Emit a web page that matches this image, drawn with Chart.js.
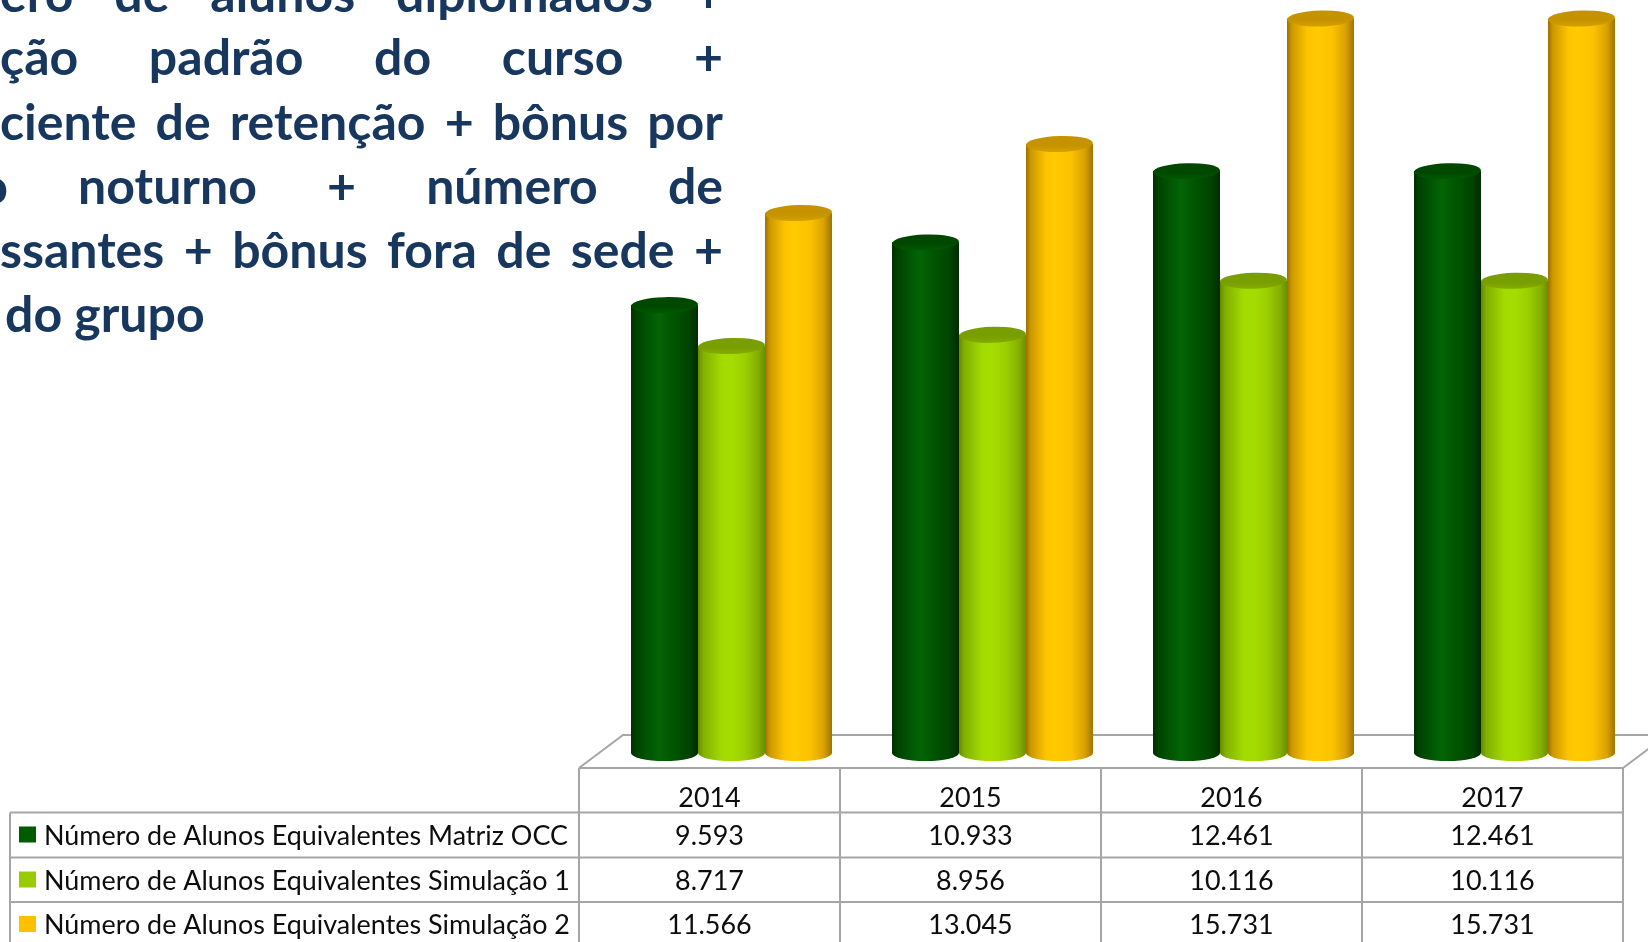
<!DOCTYPE html>
<html lang="pt-BR"><head><meta charset="utf-8">
<script src="https://cdn.jsdelivr.net/npm/chart.js@4.4.1/dist/chart.umd.min.js"></script>
<style>html,body{margin:0;padding:0;background:#fff;overflow:hidden}canvas{display:block}</style>
</head><body>
<canvas id="c" width="1648" height="942"></canvas>
<script>
// ---- data ----
const years = ["2014", "2015", "2016", "2017"];
const seriesNames = [
  "Número de Alunos Equivalentes Matriz OCC",
  "Número de Alunos Equivalentes Simulação 1",
  "Número de Alunos Equivalentes Simulação 2"
];
const matrizOCC  = [9593, 10933, 12461, 12461];
const simulacao1 = [8717, 8956, 10116, 10116];
const simulacao2 = [11566, 13045, 15731, 15731];
const yMax = 16000;
const titleLines = [
  "ero de alunos diplomados +",
  "ção padrão do curso +",
  "ciente de retenção + bônus por",
  "o noturno + número de",
  "ssantes + bônus fora de sede +",
  "do grupo"
];

// ---- styles ----
const palettes = [
  { mid: "#005a00", legend: "#005a00", cap: "#004800", capRim: "#005a00",
    stops: [[0, "#002f00"], [0.08, "#004200"], [0.3, "#005a05"], [0.42, "#056406"], [0.62, "#005500"], [0.86, "#004400"], [1, "#002c00"]] },
  { mid: "#a0d800", legend: "#99cc00", cap: "#789e00", capRim: "#84ac00",
    stops: [[0, "#668a00"], [0.08, "#82b000"], [0.35, "#a3da00"], [0.5, "#a6dd00"], [0.7, "#9ccf00"], [0.9, "#84ae00"], [1, "#6b8e00"]] },
  { mid: "#ffc600", legend: "#ffc000", cap: "#c69300", capRim: "#d4a000",
    stops: [[0, "#9a7000"], [0.07, "#cc9800"], [0.3, "#fdc400"], [0.45, "#ffca00"], [0.68, "#fbc200"], [0.88, "#d9a100"], [1, "#9e7400"]] }
];
const titleColor = "#17375e";
const lineColor = "#a6a6a6";

function fmt(v) { return String(v).replace(/\B(?=(\d{3})+(?!\d))/g, "."); }

const series = [matrizOCC, simulacao1, simulacao2];

const cylinderPlugin = {
  id: "cylinders",
  beforeDatasetsDraw(chart) {
    const ctx = chart.ctx, xs = chart.scales.x, ca = chart.chartArea;
    const n = years.length, catW = (xs.right - xs.left) / n;
    const left = xs.getPixelForValue(0) - catW / 2 - 22;
    const right = xs.getPixelForValue(n - 1) + catW / 2 - 22;
    const front = ca.bottom + 15, back = ca.bottom - 18;
    ctx.save();
    ctx.strokeStyle = lineColor; ctx.lineWidth = 2;
    ctx.beginPath();
    ctx.moveTo(left, front); ctx.lineTo(left + 44, back); ctx.lineTo(chart.width + 10, back);
    ctx.moveTo(right, front); ctx.lineTo(right + 44, back);
    ctx.stroke();
    ctx.restore();
  },
  afterDatasetsDraw(chart) {
    const ctx = chart.ctx;
    const metas = [0, 1, 2].map(i => chart.getDatasetMeta(i));
    for (let j = 0; j < years.length; j++) {
      for (let d = 0; d < metas.length; d++) {
        const el = metas[d].data[j];
        const p = el.getProps(["x", "y", "base", "width"], true);
        const pal = palettes[d];
        const l = p.x - p.width / 2, r = p.x + p.width / 2, rx = p.width / 2, ry = 8;
        const g = ctx.createLinearGradient(l, 0, r, 0);
        pal.stops.forEach(s => g.addColorStop(s[0], s[1]));
        ctx.save();
        ctx.fillStyle = g;
        ctx.beginPath();
        ctx.moveTo(l, p.y);
        ctx.lineTo(l, p.base);
        ctx.ellipse(p.x, p.base, rx, ry, 0, Math.PI, 0, true);
        ctx.lineTo(r, p.y);
        ctx.closePath();
        ctx.fill();
        // top cap
        const cg = ctx.createLinearGradient(0, p.y - ry, 0, p.y + ry);
        cg.addColorStop(0, pal.cap); cg.addColorStop(0.6, pal.cap); cg.addColorStop(1, pal.capRim);
        ctx.fillStyle = cg;
        ctx.beginPath();
        ctx.ellipse(p.x, p.y, rx, ry, -0.03, 0, Math.PI * 2);
        ctx.fill();
        ctx.restore();
      }
    }
  },
  afterDraw(chart) {
    const ctx = chart.ctx, xs = chart.scales.x, ca = chart.chartArea;
    const n = years.length, catW = (xs.right - xs.left) / n;
    const colL = i => xs.getPixelForValue(i) - catW / 2 - 22;
    const tableLeft = colL(0), tableRight = colL(n - 1) + catW;
    const legendLeft = 10;
    const rowY = [ca.bottom + 15, ca.bottom + 59.5, ca.bottom + 104.5, ca.bottom + 149, ca.bottom + 194];
    ctx.save();
    // grid lines
    ctx.strokeStyle = lineColor; ctx.lineWidth = 2;
    ctx.beginPath();
    ctx.moveTo(tableLeft, rowY[0]); ctx.lineTo(tableRight, rowY[0]);
    for (let k = 1; k < 4; k++) { ctx.moveTo(legendLeft, rowY[k]); ctx.lineTo(tableRight, rowY[k]); }
    for (let i = 0; i <= n; i++) { const x = i < n ? colL(i) : tableRight; ctx.moveTo(x, rowY[0]); ctx.lineTo(x, chart.height + 5); }
    ctx.moveTo(legendLeft, rowY[1]); ctx.lineTo(legendLeft, chart.height + 5);
    ctx.stroke();

    // table text
    ctx.font = "27px Lato";
    ctx.fillStyle = "#0d0d0d";
    const sx = Math.min(1.15, Math.max(0.8, 524 / ctx.measureText(seriesNames[0]).width));
    const drawT = (t, x, y, align) => {
      ctx.save(); ctx.translate(x, y); ctx.scale(sx, 1); ctx.textAlign = align; ctx.textBaseline = "alphabetic";
      ctx.fillText(t, 0, 0); ctx.restore();
    };
    for (let i = 0; i < n; i++) drawT(years[i], colL(i) + catW / 2, rowY[0] + 39, "center");
    for (let d = 0; d < 3; d++) {
      const top = rowY[d + 1];
      ctx.fillStyle = palettes[d].legend;
      ctx.fillRect(19, top + 14, 17, 16);
      ctx.fillStyle = "#0d0d0d";
      drawT(seriesNames[d], 44, top + 32, "left");
      for (let i = 0; i < n; i++) drawT(fmt(series[d][i]), colL(i) + catW / 2, top + 32, "center");
    }

    // title paragraph (justified)
    ctx.font = "bold 50px Lato";
    ctx.fillStyle = titleColor;
    ctx.textBaseline = "alphabetic"; ctx.textAlign = "left";
    const baselines = [12, 75, 140, 204, 268, 332];
    const rightEdge = 723;
    titleLines.forEach((line, k) => {
      const words = line.split(" ");
      if (k === titleLines.length - 1) { ctx.fillText(line, 5, baselines[k]); return; }
      const ws = words.map(w => ctx.measureText(w).width);
      let x0 = 0;
      if (k === 3) x0 = 8 - ws[0];
      const gap = (rightEdge - x0 - ws.reduce((a, b) => a + b, 0)) / (words.length - 1);
      let x = x0;
      words.forEach((w, i) => { ctx.fillText(w, x, baselines[k]); x += ws[i] + gap; });
    });
    ctx.restore();
  }
};

function render() {
  new Chart(document.getElementById("c"), {
    type: "bar",
    data: {
      labels: years,
      datasets: series.map((s, i) => ({
        label: seriesNames[i], data: s, backgroundColor: palettes[i].mid, borderWidth: 0,
        categoryPercentage: 0.77, barPercentage: 1.0
      }))
    },
    options: {
      responsive: false, animation: false, devicePixelRatio: 1,
      layout: { padding: { left: 601, right: 3, top: 6, bottom: 189 } },
      scales: { x: { display: false }, y: { display: false, min: 0, max: yMax } },
      plugins: { legend: { display: false }, tooltip: { enabled: false } }
    },
    plugins: [cylinderPlugin]
  });
}
Promise.all([document.fonts.load("bold 50px Lato"), document.fonts.load("27px Lato")]).then(render, render);
</script>
</body></html>
